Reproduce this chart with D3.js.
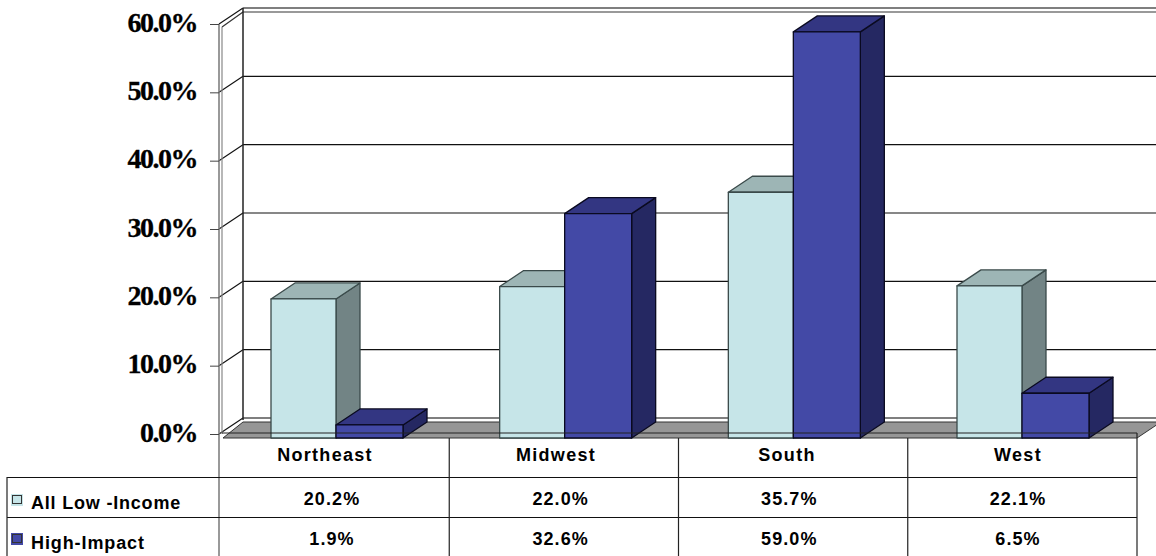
<!DOCTYPE html>
<html><head><meta charset="utf-8">
<style>html,body{margin:0;padding:0;background:#fff}svg{display:block}</style>
<script src="https://cdn.jsdelivr.net/npm/d3@7/dist/d3.min.js"></script>
</head><body><div id="c"></div>
<script>
const categories=["Northeast","Midwest","South","West"];
const seriesNames=["All Low -Income","High-Impact"];
const allLowIncome=[20.2,22.0,35.7,22.1];
const highImpact=[1.9,32.6,59.0,6.5];
const lowLabels=["20.2%","22.0%","35.7%","22.1%"];
const highLabels=["1.9%","32.6%","59.0%","6.5%"];
const yTicks=[0,10,20,30,40,50,60];
const W=1156,H=556;
const svg=d3.select("#c").append("svg").attr("width",W).attr("height",H);
const depthX=24,depthY=16;
const yAxisScale=d3.scaleLinear().domain([0,60]).range([434,24]);
const yBar=d3.scaleLinear().domain([0,60]).range([438,25]);
const xCol=d3.scaleBand().domain(categories).range([220,1137]);
const xSplit=d3.scalePoint().domain(categories).range([336,1022]);
const xHead=d3.scalePoint().domain(categories).range([325,1018]);
const xVal=d3.scalePoint().domain(categories).range([332,1018]);
const lowW=65,highW=67;
const left=243,right=W;
const ln=(x1,y1,x2,y2,c,w)=>svg.append("line").attr("x1",x1).attr("y1",y1).attr("x2",x2).attr("y2",y2).attr("stroke",c).attr("stroke-width",w||1);

// back wall grid
yTicks.forEach(t=>{
  const y=yAxisScale(t)-depthY;
  ln(left,y,right,y,t===60||t===0?"#555":"#111",t===60||t===0?1.5:1.2);
  ln(219,yAxisScale(t),left,y,"#111",1.2);
});
ln(left,12,right,12,"#777",1.5);
ln(222,27,left,12,"#333",1.2);
ln(left,8,left,420,"#222",1.5);
// floor
svg.append("polygon")
  .attr("points",[[223,438],[left,422],[1161,422],[1137,438]].map(p=>p.join(",")).join(" "))
  .attr("fill","#969696").attr("stroke","#333").attr("stroke-width",1);
// left axis lines
ln(219,24,219,H,"#777",1.5);
ln(222,27,222,434,"#888",1.2);
// axis
const axis=d3.axisLeft(yAxisScale).tickValues(yTicks).tickSize(9).tickPadding(13).tickFormat(d=>d.toFixed(1)+"%");
const ag=svg.append("g").attr("transform","translate(219,0)").call(axis);
ag.select(".domain").remove();
ag.selectAll(".tick line").attr("stroke","#444").attr("stroke-width",1);
ag.selectAll(".tick text").attr("fill","#000").attr("stroke","#000").attr("stroke-width",0.3)
  .attr("font-family","'Liberation Serif'").attr("font-weight","bold").attr("font-size",28).attr("letter-spacing",-1.5).attr("dy","0.26em");
// bars
function bar(x,w,v,front,top,side,edge){
  const y0=yBar(0),y1=yBar(v),g=svg.append("g").attr("stroke",edge).attr("stroke-width",1.3).attr("stroke-linejoin","round");
  g.append("polygon").attr("fill",side).attr("points",[[x+w,y1],[x+w+depthX,y1-depthY],[x+w+depthX,y0-depthY],[x+w,y0]].join(" "));
  g.append("polygon").attr("fill",top).attr("points",[[x,y1],[x+depthX,y1-depthY],[x+w+depthX,y1-depthY],[x+w,y1]].join(" "));
  g.append("rect").attr("x",x).attr("y",y1).attr("width",w).attr("height",y0-y1).attr("fill",front);
}
categories.forEach((c,i)=>{
  const s=xSplit(c);
  bar(s-lowW,lowW,allLowIncome[i],"#C6E5E8","#9DB5B5","#728485","#3a4a4a");
  bar(s,highW,highImpact[i],"#4349A6","#333682","#252862","#0a0a20");
});
// table
ln(222,433,1137,433,"#222",1.2);
[477.5,517.5].forEach(y=>ln(7,y,1137,y,"#111",1.2));
ln(7,477,7,H,"#222",1.2);
ln(1137,433,1137,H,"#222",1.2);
categories.slice(1).forEach(c=>ln(xCol(c),438,xCol(c),H,"#222",1.2));
const txt=(x,y,s,a,sp,fs)=>svg.append("text").attr("x",x).attr("y",y).text(s).attr("text-anchor",a)
  .attr("font-family","'Liberation Sans'").attr("font-weight","bold").attr("font-size",fs).attr("letter-spacing",sp).attr("fill","#000");
categories.forEach((c,i)=>{
  txt(xHead(c),461,c,"middle",1.3,18);
  txt(xVal(c),505,lowLabels[i],"middle",1.1,18);
  txt(xVal(c),545,highLabels[i],"middle",1.1,18);
});
// legend
[["#C6E5E8",494],["#4349A6",533]].forEach(([col,y])=>{
  svg.append("rect").attr("x",11).attr("y",y).attr("width",12).attr("height",12).attr("fill",col);
  svg.append("rect").attr("x",12.5).attr("y",y+1.5).attr("width",9).attr("height",8).attr("fill","none").attr("stroke","#333").attr("stroke-width",1);
});
txt(31,509,seriesNames[0],"start",0.8,18);
txt(31,549,seriesNames[1],"start",0.9,18);
</script></body></html>
